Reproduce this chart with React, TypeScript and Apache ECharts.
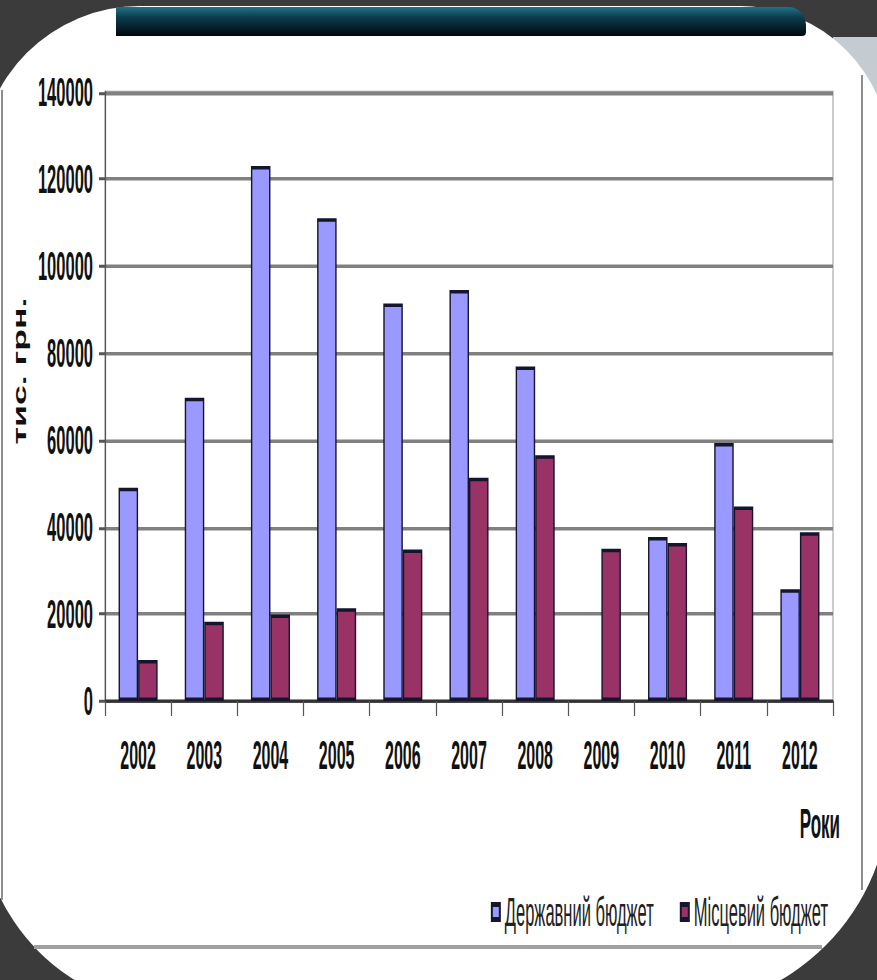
import React, { useEffect, useRef } from "react";
import * as echarts from "echarts";

// Budget financing by year, thousand UAH
const years = ["2002", "2003", "2004", "2005", "2006", "2007", "2008", "2009", "2010", "2011", "2012"];
const stateBudget = [49000, 69700, 123000, 111000, 91400, 94500, 76900, null, 37700, 59300, 25700];
const localBudget = [9400, 18200, 19900, 21300, 34800, 51300, 56500, 35000, 36300, 44700, 38800];
const seriesNames = ["Державний бюджет", "Місцевий бюджет"];
const yAxisTitle = "тис. грн.";
const xAxisTitle = "Роки";
const yMin = 0;
const yMax = 140000;
const yStep = 20000;

const FONT = '"Liberation Sans", Arial, sans-serif';

// The chart is laid out at reduced height and stretched vertically,
// which gives the tall, narrow lettering and the thick horizontal rules.
const STRETCH = 2.5;
const W = 877;
const H = 980;
const px = (realY: number) => realY / STRETCH;

export default function App() {
  const ref = useRef<HTMLDivElement>(null);

  useEffect(() => {
    if (!ref.current) return;
    const chart = echarts.init(ref.current, null, { renderer: "svg" });
    const innerH = H / STRETCH;

    const option: any = {
      animation: false,
      backgroundColor: "#3b3b3b",
      grid: {
        left: 105,
        right: 44,
        top: px(92),
        bottom: innerH - px(701),
        show: true,
        borderColor: "#9a9a9a",
        borderWidth: 1,
      },
      legend: {
        data: seriesNames,
        right: 49,
        top: px(912) - 8.5,
        icon: "rect",
        itemWidth: 8,
        itemHeight: px(15),
        itemGap: 26,
        padding: 0,
        textStyle: { fontSize: 16.5, color: "#222", fontFamily: FONT },
      },
      xAxis: {
        type: "category",
        data: years,
        axisLine: { lineStyle: { color: "#333", width: 1.2 } },
        axisTick: { show: true, length: px(15), lineStyle: { color: "#555", width: 1.2 } },
        axisLabel: {
          interval: 0,
          margin: px(756) - px(701) - 8.5,
          fontSize: 16,
          fontWeight: "bold",
          color: "#111",
          fontFamily: FONT,
        },
        splitLine: { show: false },
      },
      yAxis: {
        type: "value",
        min: yMin,
        max: yMax,
        interval: yStep,
        axisLine: { show: true, lineStyle: { color: "#555", width: 1.2 } },
        axisTick: { show: true, length: 6, lineStyle: { color: "#555", width: 1.2 } },
        axisLabel: {
          margin: 12,
          fontSize: 16.5,
          fontWeight: "bold",
          color: "#111",
          fontFamily: FONT,
          formatter: (v: number) => String(v),
        },
        splitLine: { lineStyle: { color: "#808080", width: 1.4 } },
      },
      series: [
        {
          name: seriesNames[0],
          type: "bar",
          data: stateBudget,
          barGap: "0%",
          barCategoryGap: "41%",
          silent: true,
          itemStyle: { color: "#9999ff", borderColor: "#15152e", borderWidth: 1.4 },
        },
        {
          name: seriesNames[1],
          type: "bar",
          data: localBudget,
          barGap: "0%",
          barCategoryGap: "41%",
          silent: true,
          itemStyle: { color: "#993366", borderColor: "#15152e", borderWidth: 1.4 },
        },
      ],
      graphic: [
        {
          // slide frame drawn in true pixel coordinates
          type: "group",
          scaleY: 1 / STRETCH,
          silent: true,
          children: [
            { type: "rect", z: -20, shape: { x: 833, y: 37, width: 50, height: 100 }, style: { fill: "#c4cbd1" } },
            {
              type: "rect",
              z: -19,
              shape: { x: -20, y: 6, width: 910, height: 1004, r: [160, 150, 220, 200] },
              style: { fill: "#ffffff" },
            },
            {
              type: "rect",
              z: -18,
              shape: { x: 116, y: 7, width: 690, height: 29, r: [0, 18, 4, 0] },
              style: {
                fill: new echarts.graphic.LinearGradient(0, 0, 0, 1, [
                  { offset: 0, color: "#1f7488" },
                  { offset: 0.35, color: "#0c3d4d" },
                  { offset: 1, color: "#01070d" },
                ]),
              },
            },
            { type: "line", z: -17, shape: { x1: 862, y1: 75, x2: 862, y2: 890 }, style: { stroke: "#8e8e8e", lineWidth: 2 } },
            { type: "line", z: -17, shape: { x1: 2, y1: 90, x2: 2, y2: 900 }, style: { stroke: "#8e8e8e", lineWidth: 2 } },
            { type: "line", z: -17, shape: { x1: 34, y1: 947, x2: 822, y2: 947 }, style: { stroke: "#a0a0a0", lineWidth: 4 } },
          ],
        },
        {
          // vertical axis title, narrowed along its reading direction
          type: "text",
          x: 19,
          y: px(371),
          rotation: Math.PI / 2,
          scaleX: 0.75,
          silent: true,
          style: {
            text: yAxisTitle,
            fontSize: 19,
            fontWeight: "bold",
            fontFamily: FONT,
            fill: "#111",
            align: "center",
            verticalAlign: "middle",
          },
        },
        {
          type: "text",
          x: 840,
          y: px(824),
          silent: true,
          style: {
            text: xAxisTitle,
            fontSize: 17,
            fontWeight: "bold",
            fontFamily: FONT,
            fill: "#111",
            align: "right",
            verticalAlign: "middle",
          },
        },
      ],
    };

    chart.setOption(option);
    return () => chart.dispose();
  }, []);

  return (
    <div
      style={{
        position: "absolute",
        left: 0,
        top: 0,
        width: W,
        height: H,
        overflow: "hidden",
        background: "#3b3b3b",
      }}
    >
      <div
        ref={ref}
        style={{
          width: W,
          height: H / STRETCH,
          transform: `scaleY(${STRETCH})`,
          transformOrigin: "0 0",
        }}
      />
    </div>
  );
}
